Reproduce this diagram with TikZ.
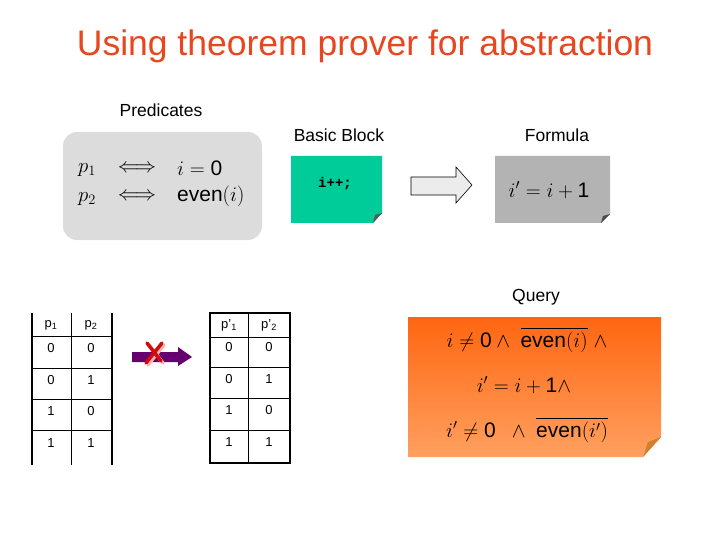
\documentclass[tikz,border=0pt]{standalone}
\usepackage{amsmath}
\usepackage{fontspec}
\setmainfont{Liberation Sans}
\setmonofont{Liberation Mono}
\definecolor{titlered}{RGB}{232,70,30}
\definecolor{predgray}{RGB}{220,220,220}
\definecolor{bbgreen}{RGB}{0,204,153}
\definecolor{formgray}{RGB}{179,179,179}
\definecolor{qtop}{RGB}{255,102,16}
\definecolor{qbot}{RGB}{255,160,96}
\definecolor{arrowpurple}{RGB}{102,0,110}
\definecolor{xred}{RGB}{210,10,10}
\tikzset{
  titletext/.style={text=titlered,font=\fontsize{35.5}{40}\selectfont,inner sep=0pt},
  lbl/.style={font=\fontsize{17.5}{20}\selectfont,inner sep=0pt},
  mth/.style={font=\fontsize{21}{24}\selectfont,inner sep=0pt},
  cell/.style={font=\fontsize{13}{15}\selectfont,inner sep=0pt},
  thickline/.style={line width=2.2pt,black},
  thinline/.style={line width=0.6pt,black},
}
\begin{document}
\begin{tikzpicture}[x=1pt,y=-1pt]
\useasboundingbox (0,0) rectangle (720,540);
% title and labels
\node[titletext] (title) at (365,46) {Using theorem prover for abstraction};
\node[lbl] (pred) at (161,110) {Predicates};
\node[lbl] (bbl) at (339,135) {Basic Block};
\node[lbl] (fl) at (557,135) {Formula};
\node[lbl] (ql) at (536,297) {Query};
% predicates box
\fill[predgray, rounded corners=14pt] (63,132) rectangle (262,240);
\node[mth] (p1) at (87,170) {$p_1$};
\node[mth] (a1) at (137,169) {$\Longleftrightarrow$};
\node[mth,anchor=west] (e1) at (177,168) {$i=\text{0}$};
\node[mth] (p2) at (87,199) {$p_2$};
\node[mth] (a2) at (137,197) {$\Longleftrightarrow$};
\node[mth,anchor=west] (e2) at (177,196) {$\text{even}(i)$};
% basic block
\fill[bbgreen] (291,156) -- (382,156) -- (382,213) -- (373,223) -- (291,223) -- cycle;
\fill[gray!70!black] (382,213) -- (373,223) -- (375,215) -- cycle;
\node[font=\ttfamily\bfseries\fontsize{14}{16}\selectfont,inner sep=0pt] (bb) at (335,184) {i++;};
% block arrow
\draw[fill=gray!15, line width=0.6pt] (411,177) -- (456,177) -- (456,167) -- (472,185) -- (456,203) -- (456,195) -- (411,195) -- cycle;
% formula box
\fill[formgray] (495,156) -- (610,156) -- (610,214) -- (601,223) -- (495,223) -- cycle;
\fill[gray!60!black] (610,214) -- (601,223) -- (603,216) -- cycle;
\node[mth] (form) at (549,190) {$i' = i + \text{1}$};
% query box
\shade[top color=qtop, bottom color=qbot] (408,317) -- (661,317) -- (661,437) -- (643,457) -- (408,457) -- cycle;
\fill[brown!70!orange] (661,437) -- (643,457) -- (648,442) -- cycle;
\node[mth] (q1) at (527,340) {$i \neq \text{0} \wedge\ \overline{\text{even}(i)}\ \wedge$};
\node[mth] (q2) at (524,385) {$i' = i + \text{1}\wedge$};
\node[mth] (q3) at (527,430) {$i' \neq \text{0}\ \ \wedge\ \overline{\text{even}(i')}$};
% left table
\foreach \yy in {336,368,399,430} \draw[thinline] (32,\yy) -- (112,\yy);
\draw[thinline] (71,313) -- (71,465);
\draw[thickline] (32,313) -- (32,465);
\draw[thickline] (112,313) -- (112,465);
\node[cell] (lh1) at (51,325) {p$_{\text{1}}$};
\node[cell] (lh2) at (91,325) {p$_{\text{2}}$};
\node[cell] (l11) at (51,348) {0};
\node[cell] (l12) at (91,348) {0};
\node[cell] (l21) at (51,380) {0};
\node[cell] (l22) at (91,380) {1};
\node[cell] (l31) at (51,411) {1};
\node[cell] (l32) at (91,411) {0};
\node[cell] (l41) at (51,443) {1};
\node[cell] (l42) at (91,443) {1};
% right table
\foreach \yy in {337,367,398,430} \draw[thinline] (210,\yy) -- (290,\yy);
\draw[thinline] (248,313) -- (248,463);
\draw[thickline] (210,313) rectangle (290,463);
\node[cell] (rh1) at (229,325) {p'$_{\text{1}}$};
\node[cell] (rh2) at (269,325) {p'$_{\text{2}}$};
\node[cell] (r11) at (229,347) {0};
\node[cell] (r12) at (269,347) {0};
\node[cell] (r21) at (229,379) {0};
\node[cell] (r22) at (269,379) {1};
\node[cell] (r31) at (229,410) {1};
\node[cell] (r32) at (269,410) {0};
\node[cell] (r41) at (229,442) {1};
\node[cell] (r42) at (269,442) {1};
% purple arrow with red cross
\fill[arrowpurple] (132,352) -- (178,352) -- (178,347) -- (192,357) -- (178,366) -- (178,362) -- (132,362) -- cycle;
\draw[line width=3.5pt, red!30, line cap=round] (149,345) -- (163,363) (164,345) -- (148,365);
\draw[line width=3.5pt, xred, line cap=round] (147,343) -- (161,361) (162,343) -- (146,363);
\end{tikzpicture}
\end{document}
